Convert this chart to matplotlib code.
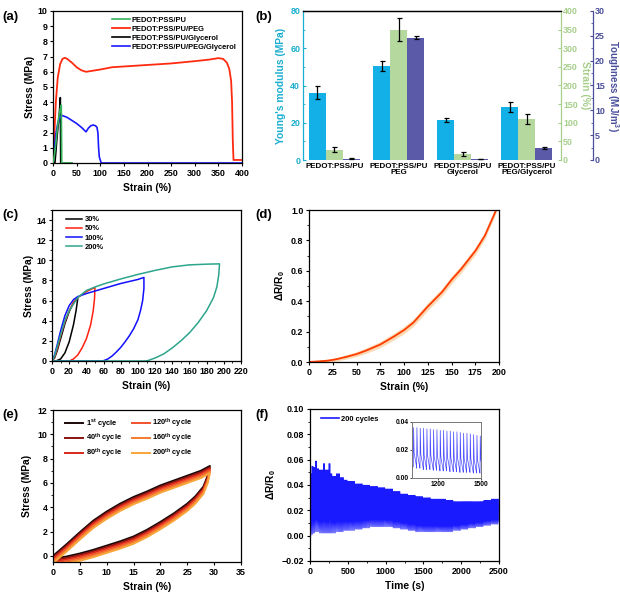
import numpy as np
import matplotlib
matplotlib.use('Agg')
import matplotlib.pyplot as plt
from matplotlib.ticker import MultipleLocator

plt.rcParams['font.family'] = ['Liberation Sans', 'DejaVu Sans']
plt.rcParams['font.weight'] = 'bold'
plt.rcParams['axes.labelweight'] = 'bold'
plt.rcParams['mathtext.fontset'] = 'custom'
plt.rcParams['mathtext.rm'] = 'Liberation Sans:bold'
plt.rcParams['mathtext.bf'] = 'Liberation Sans:bold'
plt.rcParams['mathtext.it'] = 'Liberation Sans:bold'
plt.rcParams['mathtext.default'] = 'rm'
plt.rcParams['axes.linewidth'] = 0.9

TICK = 6.4
LAB = 7.4
PAN = 9.5
LEG = 5.4

# ---- (a) stress-strain curves
pu_strain = [0, 3, 6, 9, 12, 15, 17.5, 18, 18.5, 40]
pu_stress = [0, 0.5, 1.3, 2.2, 3.0, 3.5, 3.8, 2.0, 0, 0]
gly_strain = [0, 4, 6, 8, 10, 12, 14, 15.5, 16, 16.3, 40]
gly_stress = [0, 0, 0.7, 1.5, 2.2, 2.8, 3.5, 4.3, 2.0, 0, 0]
peg_strain = [0, 3, 6, 10, 15, 20, 25, 30, 40, 50, 60, 70, 80, 100, 125, 150, 200,
              250, 300, 330, 350, 360, 368, 373, 377, 379, 380.5, 382, 390, 400]
peg_stress = [0, 2.0, 4.0, 5.6, 6.5, 6.85, 6.92, 6.85, 6.6, 6.3, 6.1, 6.0, 6.05, 6.15,
              6.3, 6.35, 6.45, 6.55, 6.7, 6.8, 6.9, 6.85, 6.6, 6.2, 5.4, 4.0, 1.5, 0.2, 0.2, 0.2]
blue_strain = [0, 3, 6, 10, 15, 20, 30, 40, 50, 60, 70, 75, 80, 85, 90, 93, 95, 96.5,
               98, 100, 102, 400]
blue_stress = [0, 1.0, 1.9, 2.6, 3.05, 3.12, 3.0, 2.8, 2.6, 2.35, 2.05, 2.3, 2.45, 2.5,
               2.45, 2.35, 2.0, 1.0, 0.4, 0.2, 0.0, 0.0]

# ---- (b) bar chart
samples = ['PEDOT:PSS/PU', 'PEDOT:PSS/PU\nPEG', 'PEDOT:PSS/PU\nGlycerol',
           'PEDOT:PSS/PU\nPEG/Glycerol']
young = [36, 50.5, 21.5, 28.5]
young_err = [3.5, 2.5, 1.3, 2.5]
strain_b = [28, 350, 17, 110]
strain_b_err = [6, 30, 5, 14]
tough = [0.3, 24.6, 0.2, 2.5]
tough_err = [0.05, 0.3, 0.05, 0.2]

# ---- (c) cyclic loops at different strains
c30_x = [0, 3, 6, 10, 15, 20, 25, 30, 28, 25, 20, 15, 10, 5, 2, 0]
c30_y = [0, 0.3, 1.0, 2.2, 3.7, 4.9, 5.8, 6.2, 5.0, 3.6, 1.9, 0.8, 0.2, 0.02, 0, 0]
c50_x = [0, 3, 6, 10, 15, 20, 25, 30, 35, 40, 45, 50, 49.5, 48, 45, 40, 35, 30, 25, 21, 19, 0]
c50_y = [0, 0.4, 1.2, 2.5, 3.9, 5.0, 5.8, 6.3, 6.6, 6.9, 7.1, 7.3, 6.2, 5.0, 3.6, 2.2, 1.3, 0.6, 0.2, 0.03, 0, 0]
c100_x = [0, 3, 6, 10, 15, 20, 25, 30, 40, 50, 60, 70, 80, 90, 100, 107, 107, 105.5, 103,
          100, 95, 90, 85, 80, 75, 70, 65, 60, 58, 0]
c100_y = [0, 0.6, 1.6, 3.0, 4.5, 5.5, 6.1, 6.4, 6.7, 6.95, 7.2, 7.45, 7.7, 7.9, 8.1, 8.3,
          7.2, 6.0, 5.0, 4.1, 3.2, 2.5, 1.9, 1.35, 0.9, 0.5, 0.2, 0.03, 0, 0]
c200_x = [0, 3, 6, 10, 15, 20, 30, 40, 50, 60, 80, 100, 120, 140, 160, 180, 195, 194, 192,
          188, 180, 170, 160, 150, 140, 130, 120, 112, 108, 0]
c200_y = [0, 0.5, 1.4, 2.6, 4.0, 5.0, 6.3, 7.0, 7.35, 7.65, 8.15, 8.6, 9.0, 9.35, 9.55, 9.62,
          9.65, 8.5, 7.4, 6.3, 5.0, 3.8, 2.8, 2.0, 1.3, 0.7, 0.3, 0.05, 0, 0]

# ---- (d) resistance change vs strain
d_strain = [0, 10, 20, 25, 30, 40, 50, 60, 75, 90, 100, 110, 125, 140, 150, 160, 175, 185, 197]
d_dr = [0, 0.004, 0.009, 0.014, 0.02, 0.035, 0.052, 0.075, 0.115, 0.17, 0.21, 0.26, 0.365,
        0.46, 0.54, 0.61, 0.73, 0.83, 1.0]
d_band = [0.006, 0.008, 0.01, 0.011, 0.012, 0.014, 0.016, 0.018, 0.02, 0.022, 0.023, 0.024,
          0.025, 0.025, 0.025, 0.025, 0.024, 0.022, 0.02]

# ---- (e) loops for selected cycles
e_labels = ['1$^{st}$ cycle', '40$^{th}$ cycle', '80$^{th}$ cycle',
            '120$^{th}$ cycle', '160$^{th}$ cycle', '200$^{th}$ cycle']
e_colors = ['#1a0808', '#8a1410', '#d8281a', '#f2522c', '#f47a30', '#f8a53a']
e_x = [0, 2.5, 5, 7.5, 10, 12.5, 15, 17.5, 20, 22.5, 25, 27.5, 29.2,
       28.8, 28, 26.5, 25, 22.5, 20, 17.5, 15, 12.5, 10, 7.5, 5, 2.5, 0.5, 0]
e_y = [0, 0.95, 1.95, 2.9, 3.65, 4.3, 4.85, 5.3, 5.8, 6.2, 6.6, 7.0, 7.4,
       6.6, 5.7, 4.9, 4.3, 3.5, 2.8, 2.15, 1.6, 1.2, 0.85, 0.5, 0.2, -0.05, -0.2, 0]
e_shift = [0, -0.12, -0.24, -0.36, -0.48, -0.6]

# ---- (f) long cycling, envelope read every ~25-100 s
f_cycles = 200
f_t = [0, 25, 50, 75, 100, 125, 150, 175, 200, 225, 250, 275, 300, 350, 400, 450, 500,
       600, 700, 800, 900, 1000, 1100, 1200, 1300, 1400, 1500, 1600, 1700, 1800, 1900,
       2000, 2100, 2200, 2300, 2400, 2500]
f_peak = [0.049, 0.055, 0.054, 0.059, 0.053, 0.052, 0.052, 0.057, 0.052, 0.052, 0.057,
          0.049, 0.047, 0.049, 0.046, 0.044, 0.043, 0.041, 0.040, 0.039, 0.038, 0.037,
          0.035, 0.033, 0.032, 0.031, 0.030, 0.029, 0.029, 0.028, 0.027, 0.027, 0.027,
          0.027, 0.028, 0.029, 0.031]
f_trough = [0.0, 0.001, 0.002, 0.003, 0.003, 0.002, 0.002, 0.002, 0.002, 0.002, 0.002,
            0.002, 0.002, 0.003, 0.003, 0.004, 0.004, 0.005, 0.006, 0.007, 0.007, 0.007,
            0.006, 0.005, 0.004, 0.003, 0.003, 0.003, 0.003, 0.003, 0.004, 0.005, 0.006,
            0.007, 0.008, 0.009, 0.011]
inset_peak = [0.036, 0.036, 0.0355, 0.0355, 0.035, 0.035, 0.0345, 0.0345, 0.034, 0.034,
              0.0335, 0.0335, 0.033, 0.033, 0.0325, 0.032, 0.032, 0.0315, 0.031, 0.0305, 0.030]
inset_trough = [0.008, 0.007, 0.007, 0.006, 0.006, 0.006, 0.0055, 0.0055, 0.005, 0.005,
                0.005, 0.0045, 0.0045, 0.0045, 0.004, 0.004, 0.004, 0.004, 0.0035, 0.0035, 0.004]
inset_first, inset_period = 1031, 23.2

W, H = 620, 592
fig = plt.figure(figsize=(6.2, 5.92), dpi=100)


def add_ax(l, t, r, b):
    return fig.add_axes([l / W, 1 - b / H, (r - l) / W, (b - t) / H])


def style(ax, xmaj, xmin, ymaj, ymin):
    ax.xaxis.set_major_locator(MultipleLocator(xmaj))
    ax.yaxis.set_major_locator(MultipleLocator(ymaj))
    if xmin:
        ax.xaxis.set_minor_locator(MultipleLocator(xmin))
    if ymin:
        ax.yaxis.set_minor_locator(MultipleLocator(ymin))
    ax.tick_params(which='major', direction='out', length=2.5, width=0.8, labelsize=TICK,
                   pad=1.5, top=False, right=False)
    ax.tick_params(which='minor', direction='out', length=1.5, width=0.6, top=False, right=False)
    for lab in ax.get_xticklabels() + ax.get_yticklabels():
        lab.set_fontweight('bold')


# (a)
ax = add_ax(53, 11, 242, 163)
ax.plot(pu_strain, pu_stress, color='#35b35a', lw=1.2, label='PEDOT:PSS/PU', zorder=4)
ax.plot(peg_strain, peg_stress, color='#ff2a10', lw=1.3, label='PEDOT:PSS/PU/PEG')
ax.plot(gly_strain, gly_stress, color='black', lw=1.2, label='PEDOT:PSS/PU/Glycerol')
ax.plot(blue_strain, blue_stress, color='#1a1aff', lw=1.2, label='PEDOT:PSS/PU/PEG/Glycerol')
ax.set_xlim(0, 400)
ax.set_ylim(0, 10)
style(ax, 50, None, 1, None)
ax.set_xlabel('Strain (%)', fontsize=LAB)
ax.set_ylabel('Stress (MPa)', fontsize=LAB, labelpad=2)
ax.legend(loc='upper right', bbox_to_anchor=(1.0, 1.0), frameon=False, fontsize=LEG,
          handlelength=2.3, handletextpad=0.3, labelspacing=0.25, borderaxespad=0.3)
fig.text(2 / W, 1 - 20 / H, '(a)', fontsize=PAN, fontweight='bold')

# (b)
c_young, c_strain, c_tough = '#12b0e6', '#b4d89d', '#5a5aa8'
t_young, t_strain, t_tough = '#1aaed0', '#a7cf8c', '#4a4e9c'
axb = add_ax(303, 11, 561, 160)
xb = np.arange(len(samples))
w = 0.265
ekw = dict(ecolor='black', elinewidth=0.9, capthick=0.9)
axb.bar(xb - w, young, w, yerr=young_err, color=c_young, capsize=1.8, error_kw=ekw)
axb2 = axb.twinx()
axb2.bar(xb, strain_b, w, yerr=strain_b_err, color=c_strain, capsize=1.8, error_kw=ekw)
axb3 = axb.twinx()
axb3.spines['right'].set_position(('outward', 23))
axb3.bar(xb + w, tough, w, yerr=tough_err, color=c_tough, capsize=1.8, error_kw=ekw)
axb.set_xlim(-0.49, 3.53)
axb.set_ylim(0, 80)
axb2.set_ylim(0, 400)
axb3.set_ylim(0, 30)
axb.set_xticks(xb)
axb.set_xticklabels(samples, fontsize=5.8, fontweight='bold', linespacing=0.9)
axb.tick_params(axis='x', length=0, pad=2)
for a in (axb, axb2, axb3):
    a.spines['bottom'].set_visible(False)
axb.spines['left'].set_color(t_young)
axb.spines['right'].set_visible(False)
axb2.spines['left'].set_visible(False)
axb2.spines['right'].set_color(t_strain)
axb3.spines['left'].set_visible(False)
axb3.spines['top'].set_visible(False)
axb3.spines['right'].set_color(t_tough)
axb.yaxis.set_major_locator(MultipleLocator(20))
axb.yaxis.set_minor_locator(MultipleLocator(10))
axb.tick_params(axis='y', which='both', direction='in', colors=t_young, labelsize=TICK, pad=2)
axb.tick_params(axis='y', which='major', length=2.5)
axb.tick_params(axis='y', which='minor', length=1.5)
axb2.yaxis.set_major_locator(MultipleLocator(50))
axb2.tick_params(axis='y', direction='in', colors=t_strain, labelsize=TICK, length=2.5, pad=1.5)
axb3.yaxis.set_major_locator(MultipleLocator(5))
axb3.yaxis.set_minor_locator(MultipleLocator(2.5))
axb3.tick_params(axis='y', which='both', direction='in', colors=t_tough, labelsize=TICK, pad=1.5)
axb3.tick_params(axis='y', which='major', length=2.5)
axb3.tick_params(axis='y', which='minor', length=1.5)
for a in (axb, axb2, axb3):
    for lab in a.get_yticklabels():
        lab.set_fontweight('bold')
axb.set_ylabel("Young's modulus (MPa)", fontsize=LAB, color=t_young, labelpad=3)
axb2.set_ylabel('Strain (%)', fontsize=LAB, color=t_strain, rotation=270, labelpad=1.5,
                va='bottom')
axb3.set_ylabel('Toughness (MJ/m$^3$)', fontsize=7.0, color=t_tough, rotation=270,
                labelpad=0, va='bottom')
fig.text(255 / W, 1 - 20 / H, '(b)', fontsize=PAN, fontweight='bold')

# (c)
axc = add_ax(52, 210, 241, 361)
axc.plot(c30_x, c30_y, color='black', lw=1.1, label='30%')
axc.plot(c50_x, c50_y, color='#ff2010', lw=1.1, label='50%')
axc.plot(c100_x, c100_y, color='#1010ff', lw=1.1, label='100%')
axc.plot(c200_x, c200_y, color='#2da58c', lw=1.1, label='200%')
axc.set_xlim(0, 220)
axc.set_ylim(0, 15)
style(axc, 20, 10, 2, 1)
axc.set_xlabel('Strain (%)', fontsize=LAB)
axc.set_ylabel('Stress (MPa)', fontsize=LAB, labelpad=2)
axc.legend(loc='upper left', bbox_to_anchor=(0.04, 1.0), frameon=False, fontsize=LEG,
           handlelength=2.2, handletextpad=0.3, labelspacing=0.25, borderaxespad=0.4)
fig.text(2 / W, 1 - 218 / H, '(c)', fontsize=PAN, fontweight='bold')

# (d)
axd = add_ax(309, 210, 499, 362)
dr = np.array(d_dr)
band = np.array(d_band)
axd.fill_between(d_strain, dr - band, dr + band, color='#fbd0a0', alpha=0.8, lw=0)
axd.plot(d_strain, d_dr, color='#ff3c00', lw=1.3)
axd.set_xlim(0, 200)
axd.set_ylim(0, 1.0)
style(axd, 25, None, 0.2, 0.1)
axd.set_xlabel('Strain (%)', fontsize=LAB)
axd.set_ylabel('ΔR/R$_0$', fontsize=LAB, labelpad=3)
fig.text(255 / W, 1 - 218 / H, '(d)', fontsize=PAN, fontweight='bold')

# (e)
axe = add_ax(53, 410, 241, 562)
ey = np.array(e_y)
for lab, col, dy in zip(e_labels, e_colors, e_shift):
    axe.plot(e_x, ey + dy, color=col, lw=1.4, label=lab)
axe.set_xlim(0, 35)
axe.set_ylim(-0.5, 12)
style(axe, 5, None, 2, 1)
axe.set_xlabel('Strain (%)', fontsize=LAB)
axe.set_ylabel('Stress (MPa)', fontsize=LAB, labelpad=4)
axe.legend(loc='upper left', bbox_to_anchor=(0.03, 1.0), ncol=2, frameon=False, fontsize=LEG,
           handlelength=2.4, handletextpad=0.3, labelspacing=0.25, columnspacing=1.3,
           borderaxespad=0.5)
fig.text(2 / W, 1 - 418 / H, '(e)', fontsize=PAN, fontweight='bold')

# (f)
axf = add_ax(310, 409, 499, 561)
period = 2500 / f_cycles
starts = np.arange(f_cycles) * period
idx = np.searchsorted(f_t, starts, side='right') - 1
pk = np.array(f_peak)[idx]
tr = np.array(f_trough)[idx]
fx = np.column_stack([starts, starts + 1.5, starts + 4.5]).ravel()
fy = np.column_stack([tr, pk, tr + 0.3 * (pk - tr)]).ravel()
fx = np.append(fx, 2500)
fy = np.append(fy, f_trough[-1])
axf.plot(fx, fy, color='#1a1aff', lw=0.4, label='200 cycles')
axf.set_xlim(0, 2500)
axf.set_ylim(-0.02, 0.10)
style(axf, 500, 250, 0.02, 0.01)
axf.set_xlabel('Time (s)', fontsize=LAB)
axf.set_ylabel('ΔR/R$_0$', fontsize=LAB, labelpad=3)
leg = axf.legend(loc='upper left', bbox_to_anchor=(0.02, 1.0), frameon=False, fontsize=LEG,
                 handlelength=2.4, handletextpad=0.3, borderaxespad=0.5)
for line in leg.get_lines():
    line.set_linewidth(1.2)
fig.text(255 / W, 1 - 418 / H, '(f)', fontsize=PAN, fontweight='bold')

# inset
axi = add_ax(412, 422, 481, 478)
ipk = np.array(inset_peak)
itr = np.array(inset_trough)
ts = inset_first + np.arange(len(ipk)) * inset_period
ix = np.column_stack([ts - 2, ts, ts + 4, ts + inset_period - 2.5]).ravel()
iy = np.column_stack([itr, ipk, itr + 0.35 * (ipk - itr), itr]).ravel()
axi.plot(ix, iy, color='#4a4aff', lw=0.5)
axi.set_xlim(1020, 1500)
axi.set_ylim(0, 0.04)
axi.set_xticks([1200, 1500])
axi.set_yticks([0, 0.02, 0.04])
axi.set_yticklabels(['0.00', '0.02', '0.04'])
axi.tick_params(labelsize=4.8, length=1.5, width=0.5, pad=1)
for lab in axi.get_xticklabels() + axi.get_yticklabels():
    lab.set_fontweight('bold')
for s in axi.spines.values():
    s.set_color('#777777')
    s.set_linewidth(0.7)

fig.savefig('out.png', dpi=100)
